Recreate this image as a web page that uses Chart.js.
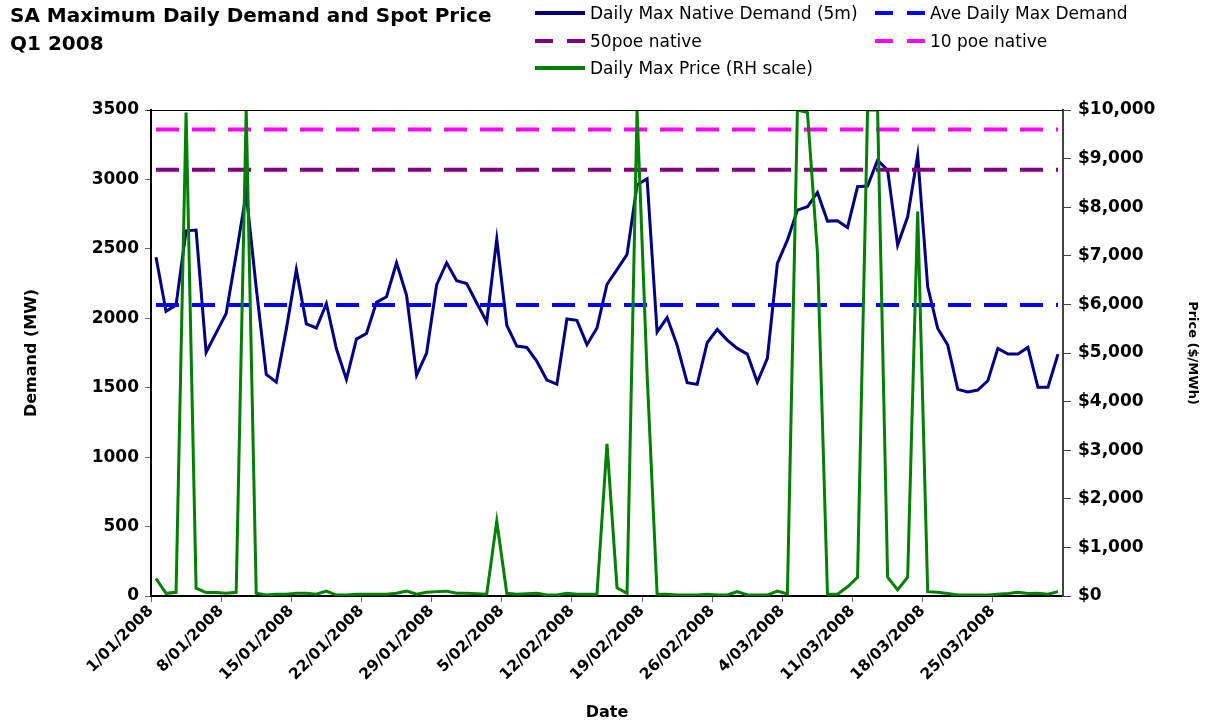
<!DOCTYPE html>
<html>
<head>
<meta charset="utf-8">
<script src="https://cdn.jsdelivr.net/npm/chart.js@4.4.0/dist/chart.umd.min.js"></script>
<style>
  body { margin: 0; background: #fff; font-family: "DejaVu Sans", Verdana, sans-serif; }
  #wrap { position: relative; width: 1210px; height: 724px; }
  #chart { position: absolute; left: 0; top: 0; }
  .title { position: absolute; left: 10px; font-weight: bold; font-size: 20px; line-height: 24px; color: #000; white-space: nowrap; }
  .leg { position: absolute; font-size: 17px; line-height: 20px; color: #000; white-space: nowrap; }
  .sw { position: absolute; width: 50px; height: 4px; }
</style>
</head>
<body>
<div id="wrap">
  <canvas id="chart" width="1210" height="724"></canvas>
  <div class="title" style="top:3px">SA Maximum Daily Demand and Spot Price</div>
  <div class="title" style="top:31px">Q1 2008</div>

  <div class="sw" style="left:535px;top:11px;background:#000080"></div>
  <div class="leg" style="left:590px;top:3px">Daily Max Native Demand (5m)</div>
  <div class="sw" style="left:875px;top:11px;background:repeating-linear-gradient(to right,#0000ff 0 18px,transparent 18px 32px)"></div>
  <div class="leg" style="left:930px;top:3px">Ave Daily Max Demand</div>

  <div class="sw" style="left:535px;top:39px;background:repeating-linear-gradient(to right,#800080 0 18px,transparent 18px 32px)"></div>
  <div class="leg" style="left:590px;top:31px">50poe native</div>
  <div class="sw" style="left:875px;top:39px;background:repeating-linear-gradient(to right,#ff00ff 0 18px,transparent 18px 32px)"></div>
  <div class="leg" style="left:930px;top:31px">10 poe native</div>

  <div class="sw" style="left:535px;top:66px;background:#008000"></div>
  <div class="leg" style="left:590px;top:58px">Daily Max Price (RH scale)</div>
</div>

<script>
// Q1 2008, one category per day
var monthDays = [31, 29, 31];
var categories = [];
monthDays.forEach(function(n, m) {
  for (var d = 1; d <= n; d++) categories.push(d + '/0' + (m + 1) + '/2008');
});

// Daily max native demand (MW), left axis
var demand = [
  2440, 2050, 2095, 2630, 2635, 1755, 1895, 2035, 2460, 2900,
  2220, 1595, 1540, 1920, 2350, 1960, 1930, 2105, 1780, 1560,
  1850, 1890, 2115, 2155, 2400, 2165, 1590, 1750, 2240, 2400,
  2270, 2250, 2110, 1975, 2570, 1950, 1800, 1790, 1690, 1555,
  1525, 1995, 1985, 1810, 1930, 2245, 2350, 2460, 2960, 3005,
  1900, 2005, 1805, 1536, 1524, 1824, 1920, 1843, 1783, 1742,
  1540, 1711, 2395, 2563, 2779, 2803, 2906, 2700, 2703, 2654,
  2947, 2952, 3139, 3067, 2527, 2731, 3175, 2227, 1927, 1807,
  1488, 1469, 1483, 1550, 1783, 1742, 1742, 1790, 1503, 1503,
  1742
];

// Daily max spot price ($/MWh), right axis
var price = [
  360, 55, 75, 9950, 160, 70, 70, 55, 75, 10000,
  55, 20, 35, 35, 55, 55, 35, 100, 20, 20,
  35, 35, 35, 35, 55, 100, 35, 75, 90, 100,
  55, 55, 45, 35, 1540, 55, 35, 45, 55, 20,
  20, 55, 35, 35, 35, 3130, 170, 55, 10000, 4570,
  35, 35, 20, 20, 20, 35, 20, 20, 90, 20,
  20, 20, 100, 40, 10000, 9950, 7050, 35, 35, 190,
  385, 10000, 10000, 385, 125, 385, 7910, 90, 75, 50,
  20, 20, 20, 20, 35, 50, 75, 50, 55, 35,
  90
];

// reference levels (MW)
var aveDemand = 2095;
var poe50 = 3070;
var poe10 = 3360;

function flat(v) { return categories.map(function() { return v; }); }

var tickFont = { family: 'DejaVu Sans', size: 17, weight: 'bold' };
var titleFont = { family: 'DejaVu Sans', size: 16, weight: 'bold' };

// top edge of plot area
var frameTop = {
  id: 'frameTop',
  afterDraw: function(chart) {
    var a = chart.chartArea, ctx = chart.ctx;
    ctx.save();
    ctx.strokeStyle = '#000';
    ctx.lineWidth = 1;
    ctx.beginPath();
    ctx.moveTo(a.left - 4, a.top + 0.5);
    ctx.lineTo(a.right, a.top + 0.5);
    ctx.stroke();
    ctx.restore();
  }
};

var ctx = document.getElementById('chart').getContext('2d');
new Chart(ctx, {
  type: 'line',
  data: {
    labels: categories,
    datasets: [
      { label: 'Daily Max Price (RH scale)', data: price, yAxisID: 'y1', borderColor: '#008000', borderWidth: 3, order: 0 },
      { label: '10 poe native', data: flat(poe10), yAxisID: 'y', borderColor: '#ff00ff', borderWidth: 4, borderDash: [23, 13], order: 1 },
      { label: '50poe native', data: flat(poe50), yAxisID: 'y', borderColor: '#800080', borderWidth: 4, borderDash: [23, 13], order: 2 },
      { label: 'Ave Daily Max Demand', data: flat(aveDemand), yAxisID: 'y', borderColor: '#0000ff', borderWidth: 4, borderDash: [23, 13], order: 3 },
      { label: 'Daily Max Native Demand (5m)', data: demand, yAxisID: 'y', borderColor: '#000080', borderWidth: 3, order: 4 }
    ]
  },
  options: {
    responsive: false,
    animation: false,
    devicePixelRatio: 1,
    elements: { point: { radius: 0 }, line: { tension: 0, borderCapStyle: 'butt' } },
    layout: { padding: { top: 110, left: 0, right: 0, bottom: 0 } },
    plugins: { legend: { display: false }, tooltip: { enabled: false } },
    scales: {
      x: {
        offset: true,
        grid: {
          offset: true,
          drawOnChartArea: false,
          tickLength: 6,
          tickColor: function(c) { return c.index % 7 === 0 ? '#666' : 'rgba(0,0,0,0)'; }
        },
        border: { display: true, color: '#000', width: 2 },
        ticks: {
          autoSkip: false,
          minRotation: 45,
          maxRotation: 45,
          padding: 0,
          labelOffset: -5,
          color: '#000',
          font: { family: 'DejaVu Sans', size: 15.5, weight: 'bold' },
          callback: function(v, i) { return i % 7 === 0 ? categories[i] : ''; }
        },
        title: { display: true, text: 'Date', color: '#000', font: titleFont, padding: { top: 0, bottom: 2 } },
        afterFit: function(s) { s.height = 128; }
      },
      y: {
        position: 'left',
        min: 0, max: 3500,
        grid: { drawOnChartArea: false, tickLength: 6, tickColor: '#666' },
        border: { display: true, color: '#000', width: 2 },
        ticks: {
          stepSize: 500, padding: 6, color: '#000', font: tickFont,
          callback: function(v) { return String(v); }
        },
        title: { display: true, text: 'Demand (MW)', color: '#000', font: titleFont, padding: { top: 22, bottom: 0 } },
        afterFit: function(s) { s.width = 151; }
      },
      y1: {
        position: 'right',
        min: 0, max: 10000,
        grid: { drawOnChartArea: false, tickLength: 8, tickColor: '#444' },
        border: { display: true, color: '#444', width: 2 },
        ticks: {
          stepSize: 1000, padding: 7, color: '#000', font: tickFont,
          callback: function(v) { return '$' + v.toLocaleString('en-US'); }
        },
        title: { display: true, text: 'Price ($/MWh)', color: '#000', font: { family: 'DejaVu Sans', size: 13, weight: 'bold' }, padding: { top: 10, bottom: 0 } },
        afterFit: function(s) { s.width = 147; }
      }
    }
  },
  plugins: [frameTop]
});
</script>
</body>
</html>
